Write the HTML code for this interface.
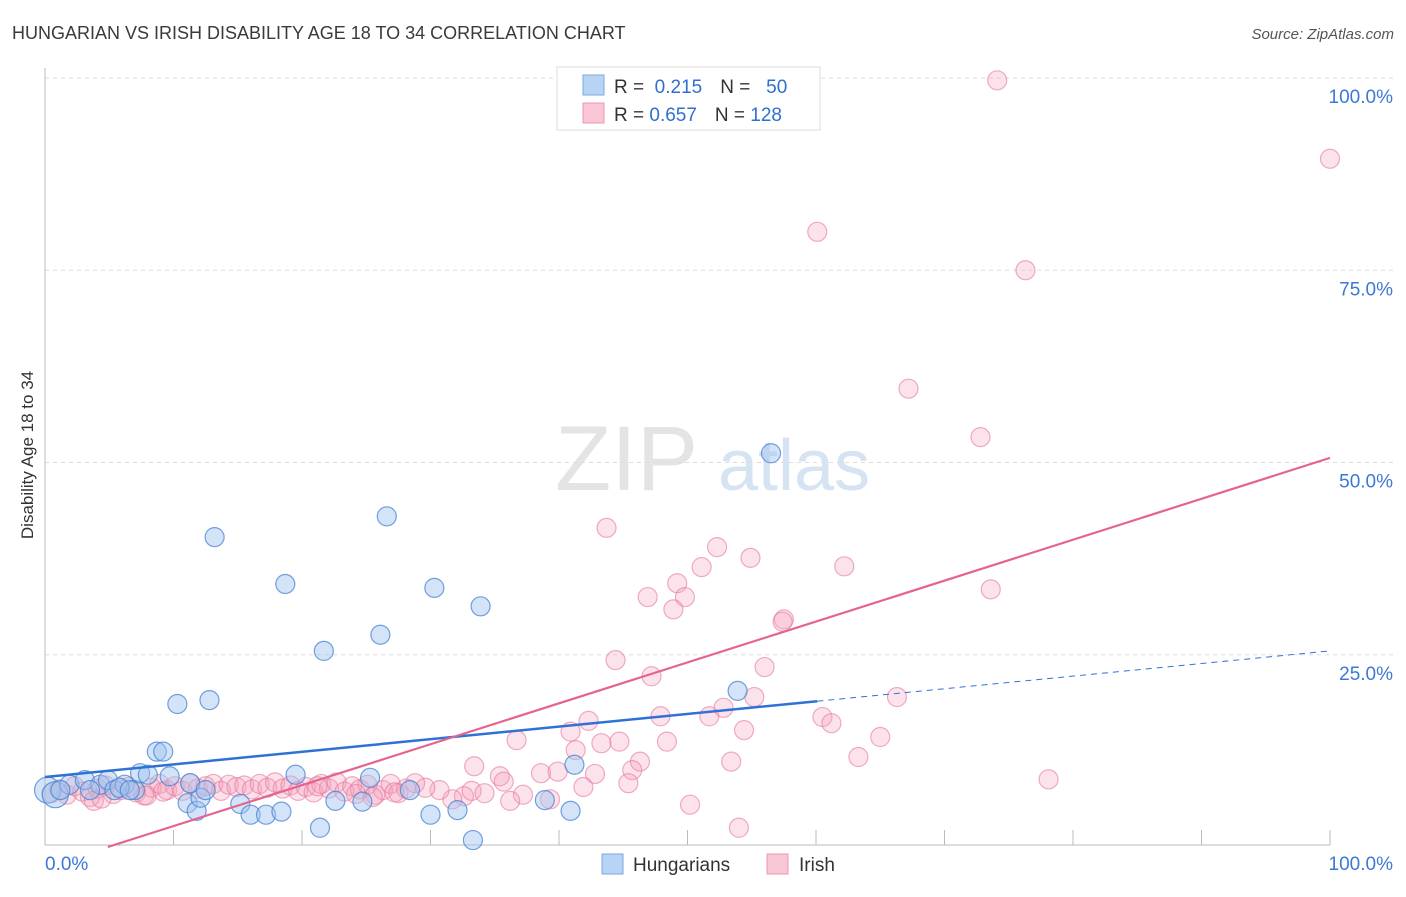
<!DOCTYPE html>
<html><head><meta charset="utf-8"><style>
body{margin:0;background:#fff;font-family:"Liberation Sans",sans-serif;}
svg text{font-family:"Liberation Sans",sans-serif;}
</style></head><body>
<svg id="chart" width="1406" height="892" xmlns="http://www.w3.org/2000/svg">
<text x="12" y="39" font-size="18" fill="#3a3a3a">HUNGARIAN VS IRISH DISABILITY AGE 18 TO 34 CORRELATION CHART</text>
<text x="1394" y="39" font-size="15" fill="#555" font-style="italic" text-anchor="end">Source: ZipAtlas.com</text>
<text transform="translate(33,455) rotate(-90)" font-size="17" fill="#333" text-anchor="middle">Disability Age 18 to 34</text>
<g>
<text x="555" y="490" font-size="92" fill="#e4e4e4" font-family="Liberation Serif">ZIP</text>
<text x="718" y="490" font-size="72" fill="#d5e3f3">atlas</text>
</g>
<g id="grid"></g>
<g id="marks"></g>
<g id="lines"></g>
<g>
<rect x="557" y="67" width="263" height="63" fill="#fff" stroke="#ddd"/>
<rect x="583" y="75" width="21" height="20" fill="#b8d4f5" stroke="#7aa8e0"/>
<text x="614" y="93" font-size="19" fill="#333">R = <tspan fill="#2f6fd0">&#160;0.215</tspan><tspan dx="18">N = </tspan><tspan fill="#2f6fd0">&#160;&#160;50</tspan></text>
<rect x="583" y="103" width="21" height="20" fill="#f9c6d5" stroke="#eb98b0"/>
<text x="614" y="121" font-size="19" fill="#333">R = <tspan fill="#2f6fd0">0.657</tspan><tspan dx="18">N = </tspan><tspan fill="#2f6fd0">128</tspan></text>
</g>
<g>
<rect x="602" y="854" width="21" height="20" fill="#b8d4f5" stroke="#7aa8e0"/>
<text x="633" y="871" font-size="19" fill="#333">Hungarians</text>
<rect x="767" y="854" width="21" height="20" fill="#f9c6d5" stroke="#eb98b0"/>
<text x="799" y="871" font-size="19" fill="#333">Irish</text>
</g>
</svg>
<script>
const hungX=[0.2,0.8,1.9,3.1,4.3,4.9,5.4,6.2,7.0,7.4,8.0,8.7,9.2,9.7,10.3,11.1,11.8,12.1,12.8,13.2,15.2,16.0,17.2,18.4,18.7,19.5,21.4,21.7,22.6,24.7,25.3,26.1,26.6,28.4,30.0,30.3,32.1,33.3,33.9,38.9,40.9,41.2,53.9,56.5,1.2,3.5,5.8,6.6,11.3,12.5];
const hungY=[7.4,6.8,8.1,8.7,8.1,8.7,7.4,8.1,7.4,9.6,9.4,12.4,12.4,9.2,18.6,5.7,4.7,6.4,19.1,40.3,5.6,4.2,4.2,4.6,34.2,9.4,2.5,25.5,6.0,5.9,9.0,27.6,43.0,7.4,4.2,33.7,4.8,0.9,31.3,6.1,4.7,10.7,20.3,51.2,7.4,7.4,7.7,7.4,8.3,7.4];
const irishX=[74.1,100,60.1,76.3,67.2,72.8,43.7,52.3,54.9,62.2,51.1,49.2,46.9,49.8,48.9,73.6,57.5,57.4,44.4,56.0,47.2,55.2,66.3,47.9,51.7,52.8,60.5,61.2,42.3,40.9,54.4,65.0,36.7,43.3,44.7,48.4,41.3,63.3,46.3,45.7,53.4,33.4,78.1,45.4,50.2,54.0,42.8,41.9,38.6,39.9,35.4,35.7,37.2,36.2,32.6,31.7,33.2,34.2,30.7,29.6,28.8,39.3,
0.5,1.1,1.7,2.3,2.9,3.5,4.1,4.7,5.3,5.9,6.5,7.1,7.7,8.3,8.9,9.5,10.1,10.7,11.3,11.9,12.5,13.1,13.7,14.3,14.9,15.5,16.1,16.7,17.3,17.9,18.5,19.1,19.7,20.3,20.9,21.5,22.1,22.7,23.3,23.9,24.5,25.1,25.7,26.3,26.9,27.5,28.1,3.8,4.4,7.9,9.2,21.2,24.2,25.5,27.2];
const irishY=[99.7,89.5,80.0,75.0,59.6,53.3,41.5,39.0,37.6,36.5,36.4,34.3,32.5,32.5,30.9,33.5,29.6,29.3,24.3,23.4,22.2,19.5,19.5,17.0,17.0,18.1,16.9,16.1,16.4,15.0,15.2,14.3,13.9,13.5,13.7,13.7,12.6,11.7,11.1,10.0,11.1,10.5,8.8,8.3,5.5,2.5,9.5,7.8,9.6,9.8,9.2,8.5,6.8,6.0,6.6,6.2,7.3,7.0,7.4,7.7,8.3,6.2,
7.0,7.5,6.8,7.9,7.2,6.5,7.6,8.0,6.9,7.4,7.8,7.1,6.7,7.7,8.2,7.4,7.9,7.3,8.3,7.6,7.9,8.2,7.3,8.1,7.8,8.0,7.5,8.2,7.7,8.4,7.6,8.0,7.3,7.8,7.1,8.2,7.6,8.4,7.2,7.9,7.5,8.1,6.8,7.4,8.2,7.0,7.6,6.0,6.3,6.7,7.2,7.9,6.9,6.5,7.1];
const yTicks=[25,50,75,100];
const yTickLabels=["25.0%","50.0%","75.0%","100.0%"];
const xTicks=[10,20,30,40,50,60,70,80,90,100];
const hungFit=[9.1,0.164]; // intercept, slope
const irishFit=[-2.6,0.532];
const hungSolidEnd=60.1;

const NS="http://www.w3.org/2000/svg";
const sx=v=>45+v*12.85, sy=v=>847-v*7.69;
function mk(tag,attrs,parent){const e=document.createElementNS(NS,tag);for(const k in attrs)e.setAttribute(k,attrs[k]);parent.appendChild(e);return e;}
const grid=document.getElementById('grid'),marks=document.getElementById('marks'),lines=document.getElementById('lines'),svg=document.getElementById('chart');
yTicks.forEach((t,i)=>{
 const g=mk('line',{x1:45,x2:1393,y1:sy(t),y2:sy(t),stroke:'#ddd','stroke-dasharray':'4,4'},grid);
 
 
 const l=mk('text',{x:1393,y:sy(t)+25,'font-size':19,fill:'#3d78d3','text-anchor':'end'},svg);
 l.textContent=yTickLabels[i];
 
 
});
const ax=mk('line',{x1:45,x2:1330,y1:845,y2:845,stroke:'#bbb'},grid);


const ay=mk('line',{x1:45,x2:45,y1:68,y2:845,stroke:'#bbb'},grid);


xTicks.forEach(t=>{
 const e=mk('line',{x1:sx(t),x2:sx(t),y1:830,y2:845,stroke:'#bbb'},grid);
 
 
});
const xl0=mk('text',{x:45,y:870,'font-size':19,fill:'#3d78d3'},svg);xl0.textContent='0.0%';


const xl1=mk('text',{x:1393,y:870,'font-size':19,fill:'#3d78d3','text-anchor':'end'},svg);xl1.textContent='100.0%';


irishX.forEach((x,i)=>{
 const c=mk('circle',{cx:sx(x),cy:sy(irishY[i]),r:9.5,fill:'rgba(244,160,188,0.3)',stroke:'rgba(228,120,155,0.6)','stroke-width':1.2},marks);
 
 
});
hungX.forEach((x,i)=>{
 const c=mk('circle',{cx:sx(x),cy:sy(hungY[i]),r:i<2?13:9.5,fill:'rgba(160,196,240,0.45)',stroke:'rgba(70,130,210,0.75)','stroke-width':1.2},marks);
 
 
});
const hl=mk('line',{x1:sx(0),y1:sy(hungFit[0]),x2:sx(hungSolidEnd),y2:sy(hungFit[0]+hungFit[1]*hungSolidEnd),stroke:'#2f72d6','stroke-width':2.5},lines);


const hd=mk('line',{x1:sx(hungSolidEnd),y1:sy(hungFit[0]+hungFit[1]*hungSolidEnd),x2:sx(100),y2:sy(hungFit[0]+hungFit[1]*100),stroke:'#2f72d6','stroke-width':1,'stroke-dasharray':'6,5'},lines);


const x0=-irishFit[0]/irishFit[1];
const il=mk('line',{x1:sx(x0),y1:sy(0),x2:sx(100),y2:sy(irishFit[0]+irishFit[1]*100),stroke:'#e5648f','stroke-width':2.2},lines);


</script>
</body></html>
